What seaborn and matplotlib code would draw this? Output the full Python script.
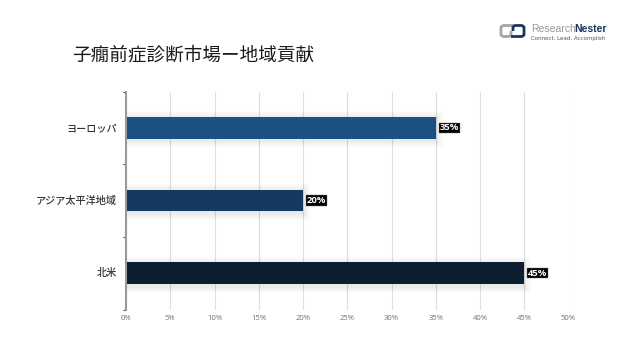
import matplotlib
matplotlib.use('Agg')
import matplotlib.pyplot as plt
import pandas as pd
import seaborn as sns
from matplotlib.patches import Rectangle

regions = ['ヨーロッパ', 'アジア太平洋地域', '北米']
shares = [35, 20, 45]
bar_colors = ['#1b5080', '#153a5f', '#0c1e30']
xticks = [0, 5, 10, 15, 20, 25, 30, 35, 40, 45, 50]
title = '子癇前症診断市場ー地域貢献'

sns.set_theme(style='white')
plt.rcParams['font.family'] = ['Noto Sans CJK JP', 'DejaVu Sans']

W, H = 640, 360
df = pd.DataFrame({'region': regions, 'share': shares})

fig = plt.figure(figsize=(W / 100, H / 100), dpi=100)
# 軸の位置はピクセルから
ax = fig.add_axes([126 / W, 1 - 309.5 / H, (568.5 - 126) / W, (309.5 - 91.5) / H])
ax.set_facecolor('none')

sns.barplot(data=df, x='share', y='region', hue='region', palette=bar_colors, legend=False,
            width=0.3, ax=ax, zorder=2, saturation=1, linewidth=0)

# 棒の影 (1px = 0.113 / 0.0138 データ単位)
for i, v in enumerate(shares):
    for k in range(1, 8):
        ax.add_patch(Rectangle((0, i - 0.15 - (k - 1.5) * 0.0138), v + k * 0.113, 0.3 + 2 * k * 0.0138,
                               color='black', alpha=0.012, lw=0, zorder=1.5))

ax.set_xlim(0, 50)
ax.set_ylim(2.5, -0.5)
ax.set_xticks(xticks)
ax.set_xticklabels(['{}%'.format(t) for t in xticks], fontsize=5.5, color='#707070', family='Open Sans')
ax.grid(axis='x', color='#dedede', lw=0.8, zorder=0)
ax.set_axisbelow(True)
ax.set_xlabel('')
ax.set_ylabel('')

for s in ['top', 'right', 'bottom']:
    ax.spines[s].set_visible(False)
ax.spines['left'].set_color('#999999')
ax.spines['left'].set_linewidth(1.5)

# カテゴリ境界の目盛り
ax.set_yticks([-0.5, 0.5, 1.5, 2.5])
ax.set_yticklabels([])
ax.tick_params(axis='y', length=2.5, width=0.8, color='#444444', left=True, pad=0)
ax.tick_params(axis='x', length=0, pad=4)

for i, r in enumerate(regions):
    ax.annotate(r, (0, i), xytext=(-6.5, 0), textcoords='offset points', ha='right', va='center',
                fontsize=7.3, color='#333333', fontweight='medium')

# データラベル
for i, v in enumerate(shares):
    ax.annotate('{}%'.format(v), (v, i), xytext=(2.8, 0), textcoords='offset points', ha='left', va='center',
                fontsize=6.8, color='white', fontweight='bold', zorder=5, family='Open Sans',
                bbox=dict(boxstyle='square,pad=0.08', fc='black', ec='#777777', lw=0.3))

fig.text(72 / W, 1 - 55 / H, title, fontsize=13.4, color='#1a1a1a', ha='left', va='center')

# ロゴ
logo = fig.add_axes([0, 0, 1, 1], facecolor='none')
logo.set_xlim(0, W)
logo.set_ylim(H, 0)
logo.axis('off')
logo.plot([514, 503, 501, 501, 503, 509, 511, 511], [25.5, 25.5, 27, 35, 36.5, 36.5, 35, 31],
          color='#a5a5a5', lw=2, solid_capstyle='butt')
logo.plot([513, 513, 515, 522, 524, 524, 522, 511], [31, 27, 25.5, 25.5, 27, 35, 36.5, 36.5],
          color='#17375e', lw=2, solid_capstyle='butt')
logo.text(531, 29.5, 'Research', fontsize=7.5, color='#9a9a9a', ha='left', va='center', family='Liberation Sans')
logo.text(574, 29.5, 'Nester', fontsize=7.5, color='#17375e', ha='left', va='center', fontweight='bold', family='Liberation Sans')
logo.text(531, 38.5, 'Connect. Lead. Accomplish', fontsize=4, color='#555555', ha='left', va='center', family='DejaVu Sans')

fig.savefig('out.png', dpi=100)
